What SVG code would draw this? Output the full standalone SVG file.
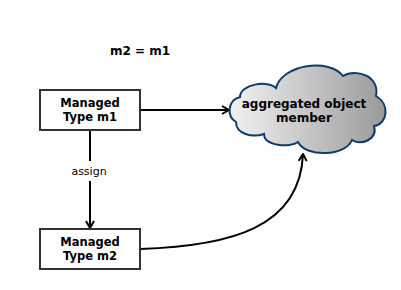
<svg xmlns="http://www.w3.org/2000/svg" width="401" height="290" viewBox="0 0 401 290">
  <style>
    .box { fill: #ffffff; stroke: #333333; stroke-width: 2; }
    .lbl { font-family: "DejaVu Sans", Verdana, sans-serif; font-weight: bold; fill: #000000; text-anchor: middle; }
    .edge { fill: none; stroke: #000000; stroke-width: 2; }
    .note { font-family: "DejaVu Sans", Verdana, sans-serif; font-size: 11px; fill: #000000; text-anchor: middle; }
  </style>
  <defs>
    <linearGradient id="cloudFill" x1="0" y1="0" x2="1" y2="0">
      <stop offset="0" stop-color="#f2f2f2"/>
      <stop offset="1" stop-color="#9a9a9a"/>
    </linearGradient>
    <marker id="arrow" viewBox="0 0 10 10" refX="9" refY="5" markerWidth="10" markerHeight="10" markerUnits="userSpaceOnUse" orient="auto">
      <polyline points="2,1 9,5 2,9" fill="none" stroke="#000000" stroke-width="2"/>
    </marker>
  </defs>
  <rect width="401" height="290" fill="#ffffff"/>

  <text class="lbl" x="140" y="55" font-size="12">m2 = m1</text>

  <g id="connectors">
    <line class="edge" x1="140" y1="110" x2="229" y2="110" marker-end="url(#arrow)"/>
    <line class="edge" x1="90" y1="130" x2="90" y2="161"/>
    <line class="edge" x1="90" y1="181" x2="90" y2="228" marker-end="url(#arrow)"/>
    <path class="edge" d="M140,249 C230,246 300,228 303,154" marker-end="url(#arrow)"/>
    <text class="note" x="89" y="175">assign</text>
  </g>

  <g id="m1">
    <rect class="box" x="40" y="90" width="100" height="40"/>
    <text class="lbl" x="90" y="107" font-size="11.5">Managed</text>
    <text class="lbl" x="90" y="121" font-size="11.5">Type m1</text>
  </g>

  <g id="m2">
    <rect class="box" x="40" y="229" width="100" height="40"/>
    <text class="lbl" x="90" y="246" font-size="11.5">Managed</text>
    <text class="lbl" x="90" y="260" font-size="11.5">Type m2</text>
  </g>

  <g id="member">
    <path d="M236,122 C226,116 228,100 240,97 C240,84 268,80 276,88 C282,64 330,58 343,76 C356,68 380,76 376,96 C390,104 388,124 374,126 C378,140 360,146 352,140 C346,156 306,158 298,142 C290,148 264,146 264,134 C252,138 236,134 236,122 Z" fill="url(#cloudFill)" stroke="#0d3c6e" stroke-width="2"/>
    <text class="lbl" x="304" y="108" font-size="12">aggregated object</text>
    <text class="lbl" x="304" y="122" font-size="12">member</text>
  </g>
</svg>
